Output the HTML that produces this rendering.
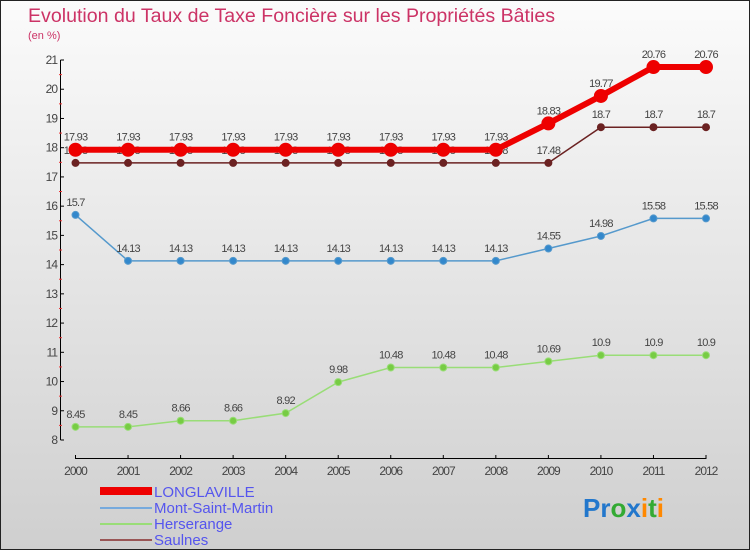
<!DOCTYPE html>
<html><head><meta charset="utf-8"><style>
html,body{margin:0;padding:0;}
svg{display:block;font-family:"Liberation Sans",sans-serif;}
</style></head><body>
<svg id="chart" width="750" height="550" viewBox="0 0 750 550">
<defs><linearGradient id="bg" x1="0" y1="0" x2="0" y2="1"><stop offset="0" stop-color="#fbfbfb"/><stop offset="1" stop-color="#cfcfcf"/></linearGradient></defs>
<rect x="0.5" y="0.5" width="749" height="549" fill="url(#bg)" stroke="#222"/>
<text x="28" y="22" font-size="19" fill="#cc3366" textLength="527" lengthAdjust="spacingAndGlyphs">Evolution du Taux de Taxe Foncière sur les Propriétés Bâties</text>
<text x="28" y="39" font-size="11" fill="#cc3366">(en %)</text>
<g id="axes"></g>
<g id="series"></g>
<g id="legend">
<rect x="100" y="487" width="52" height="8" fill="#ee0000"/>
<text x="154" y="497" font-size="15" fill="#5555ee">LONGLAVILLE</text>
<line x1="100" y1="508" x2="152" y2="508" stroke="#77aadd" stroke-width="2"/>
<text x="154" y="513" font-size="15" fill="#5555ee">Mont-Saint-Martin</text>
<line x1="100" y1="524" x2="152" y2="524" stroke="#99dd77" stroke-width="2"/>
<text x="154" y="529" font-size="15" fill="#5555ee">Herserange</text>
<line x1="100" y1="540" x2="152" y2="540" stroke="#995555" stroke-width="2"/>
<text x="154" y="545" font-size="15" fill="#5555ee">Saulnes</text>
</g>
<text x="583" y="517" font-size="26" font-weight="bold"><tspan fill="#2277cc">Pr</tspan><tspan fill="#33aa33">o</tspan><tspan fill="#2277cc">x</tspan><tspan fill="#ff8800">i</tspan><tspan fill="#33aa33">t</tspan><tspan fill="#ff8800">i</tspan></text>
</svg>
<script>
const years = [2000,2001,2002,2003,2004,2005,2006,2007,2008,2009,2010,2011,2012];
const longlaville = [17.93,17.93,17.93,17.93,17.93,17.93,17.93,17.93,17.93,18.83,19.77,20.76,20.76];
const montSaintMartin = [15.7,14.13,14.13,14.13,14.13,14.13,14.13,14.13,14.13,14.55,14.98,15.58,15.58];
const herserange = [8.45,8.45,8.66,8.66,8.92,9.98,10.48,10.48,10.48,10.69,10.9,10.9,10.9];
const saulnes = [17.48,17.48,17.48,17.48,17.48,17.48,17.48,17.48,17.48,17.48,18.7,18.7,18.7];
const yTicks = [8,9,10,11,12,13,14,15,16,17,18,19,20,21];

const NS = "http://www.w3.org/2000/svg";
const xs = i => 75.5 + i * (706 - 75.5) / 12;
const ys = v => 440 - (v - 8) * (380 / 13);
function mk(tag, attrs, parent){const e=document.createElementNS(NS,tag);for(const k in attrs)e.setAttribute(k,attrs[k]);parent.appendChild(e);return e;}
const axes = document.getElementById('axes');
const series = document.getElementById('series');

let yl = mk('line',{x1:60.5,y1:ys(21),x2:60.5,y2:ys(8),stroke:'#000'},axes);


yTicks.forEach(t=>{
  let l = mk('line',{x1:60.5,y1:ys(t),x2:64,y2:ys(t),stroke:'#000'},axes);
  
  
  if(t<21){let m = mk('line',{x1:59,y1:ys(t+0.5),x2:62,y2:ys(t+0.5),stroke:'#e33'},axes);
  
  }
  let tx = mk('text',{x:57,y:ys(t)+4,'font-size':12,fill:'#444','text-anchor':'end','letter-spacing':'-1'},axes);
  tx.textContent = t;
  
  
});
let xl = mk('line',{x1:xs(0),y1:458.5,x2:xs(12),y2:458.5,stroke:'#000'},axes);


years.forEach((y,i)=>{
  let l = mk('line',{x1:xs(i),y1:455,x2:xs(i),y2:459,stroke:'#000'},axes);
  
  
  let tx = mk('text',{x:xs(i),y:475,'font-size':12,fill:'#444','text-anchor':'middle','letter-spacing':'-1'},axes);
  tx.textContent = y;
  
  
});

function drawSeries(vals, color, width, r, fill, name){
  const g = mk('g',{},series);
  
  
  let p = mk('polyline',{points:vals.map((v,i)=>xs(i)+','+ys(v)).join(' '),fill:'none',stroke:color,'stroke-width':width},g);
  
  
  vals.forEach((v,i)=>{
    let c = mk('circle',{cx:xs(i),cy:ys(v),r:r,fill:fill,stroke:color,'stroke-width':1},g);
    
    
    let t = mk('text',{x:xs(i),y:ys(v)-9,'font-size':11,fill:'#444','text-anchor':'middle','letter-spacing':'-0.8'},g);
    t.textContent = v;
    
    
  });
}
drawSeries(saulnes,'#6b2222',1.5,3.5,'#6b2222','saulnes');
drawSeries(herserange,'#99dd77',1.5,3.5,'#77cc44','herserange');
drawSeries(montSaintMartin,'#5599cc',1.5,3.5,'#3388cc','mont-saint-martin');
drawSeries(longlaville,'#ee0000',6,6.5,'#ee0000','longlaville');
</script>
</body></html>
